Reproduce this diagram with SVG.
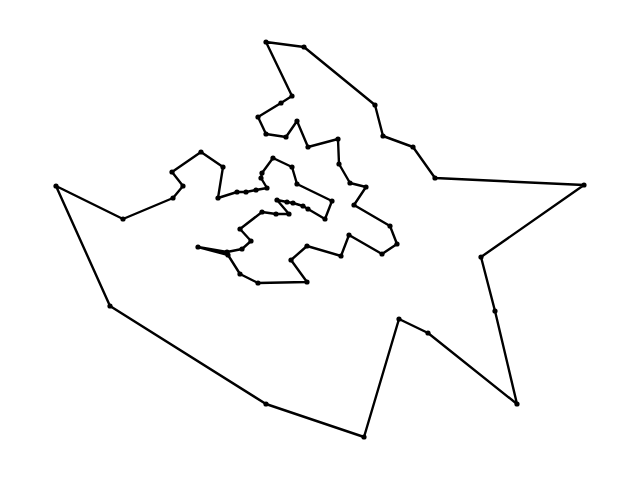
<svg xmlns="http://www.w3.org/2000/svg" width="640" height="480" viewBox="0 0 640 480">
<style>
.route{fill:none;stroke:#000;stroke-width:2.4;stroke-linejoin:round;stroke-linecap:round}
.pt circle{fill:#000}
</style>
<rect width="640" height="480" fill="#fff"/>
<g id="connectors">
<polygon class="route" points="267,188 261,178 262,173 273,158 292,167 297,184 332,201 325,219 308,209 303,206 293,203 287,202 277,200 289,214 276,214 262,212 240,229 251,241 242,249 227,252 198,247 228,255 240,274 258,283 307,282 291,260 307,246 341,256 349,235 382,254 397,244 390,226 354,205 366,187 350,183 339,164 338,139 308,147 297,121 286,137 266,134 258,117 281,103 292,96 266,42 304,47 375,105 383,136 413,147 435,178 584,185 481,257 495,311 517,404 428,333 399,319 364,437 266,404 110,306 56,186 123,219 173,198 183,186 172,172 201,152 223,167 218,198 237,192 246,192 256,190"/>
</g>
<g id="nodes" class="pt">
<circle cx="267" cy="188" r="2.6"/><circle cx="261" cy="178" r="2.6"/><circle cx="262" cy="173" r="2.6"/><circle cx="273" cy="158" r="2.6"/><circle cx="292" cy="167" r="2.6"/><circle cx="297" cy="184" r="2.6"/><circle cx="332" cy="201" r="2.6"/><circle cx="325" cy="219" r="2.6"/><circle cx="308" cy="209" r="2.6"/><circle cx="303" cy="206" r="2.6"/><circle cx="293" cy="203" r="2.6"/><circle cx="287" cy="202" r="2.6"/><circle cx="277" cy="200" r="2.6"/><circle cx="289" cy="214" r="2.6"/><circle cx="276" cy="214" r="2.6"/><circle cx="262" cy="212" r="2.6"/><circle cx="240" cy="229" r="2.6"/><circle cx="251" cy="241" r="2.6"/><circle cx="242" cy="249" r="2.6"/><circle cx="227" cy="252" r="2.6"/><circle cx="198" cy="247" r="2.6"/><circle cx="228" cy="255" r="2.6"/><circle cx="240" cy="274" r="2.6"/><circle cx="258" cy="283" r="2.6"/><circle cx="307" cy="282" r="2.6"/><circle cx="291" cy="260" r="2.6"/><circle cx="307" cy="246" r="2.6"/><circle cx="341" cy="256" r="2.6"/><circle cx="349" cy="235" r="2.6"/><circle cx="382" cy="254" r="2.6"/><circle cx="397" cy="244" r="2.6"/><circle cx="390" cy="226" r="2.6"/><circle cx="354" cy="205" r="2.6"/><circle cx="366" cy="187" r="2.6"/><circle cx="350" cy="183" r="2.6"/><circle cx="339" cy="164" r="2.6"/><circle cx="338" cy="139" r="2.6"/><circle cx="308" cy="147" r="2.6"/><circle cx="297" cy="121" r="2.6"/><circle cx="286" cy="137" r="2.6"/><circle cx="266" cy="134" r="2.6"/><circle cx="258" cy="117" r="2.6"/><circle cx="281" cy="103" r="2.6"/><circle cx="292" cy="96" r="2.6"/><circle cx="266" cy="42" r="2.6"/><circle cx="304" cy="47" r="2.6"/><circle cx="375" cy="105" r="2.6"/><circle cx="383" cy="136" r="2.6"/><circle cx="413" cy="147" r="2.6"/><circle cx="435" cy="178" r="2.6"/><circle cx="584" cy="185" r="2.6"/><circle cx="481" cy="257" r="2.6"/><circle cx="495" cy="311" r="2.6"/><circle cx="517" cy="404" r="2.6"/><circle cx="428" cy="333" r="2.6"/><circle cx="399" cy="319" r="2.6"/><circle cx="364" cy="437" r="2.6"/><circle cx="266" cy="404" r="2.6"/><circle cx="110" cy="306" r="2.6"/><circle cx="56" cy="186" r="2.6"/><circle cx="123" cy="219" r="2.6"/><circle cx="173" cy="198" r="2.6"/><circle cx="183" cy="186" r="2.6"/><circle cx="172" cy="172" r="2.6"/><circle cx="201" cy="152" r="2.6"/><circle cx="223" cy="167" r="2.6"/><circle cx="218" cy="198" r="2.6"/><circle cx="237" cy="192" r="2.6"/><circle cx="246" cy="192" r="2.6"/><circle cx="256" cy="190" r="2.6"/>
</g>
</svg>
